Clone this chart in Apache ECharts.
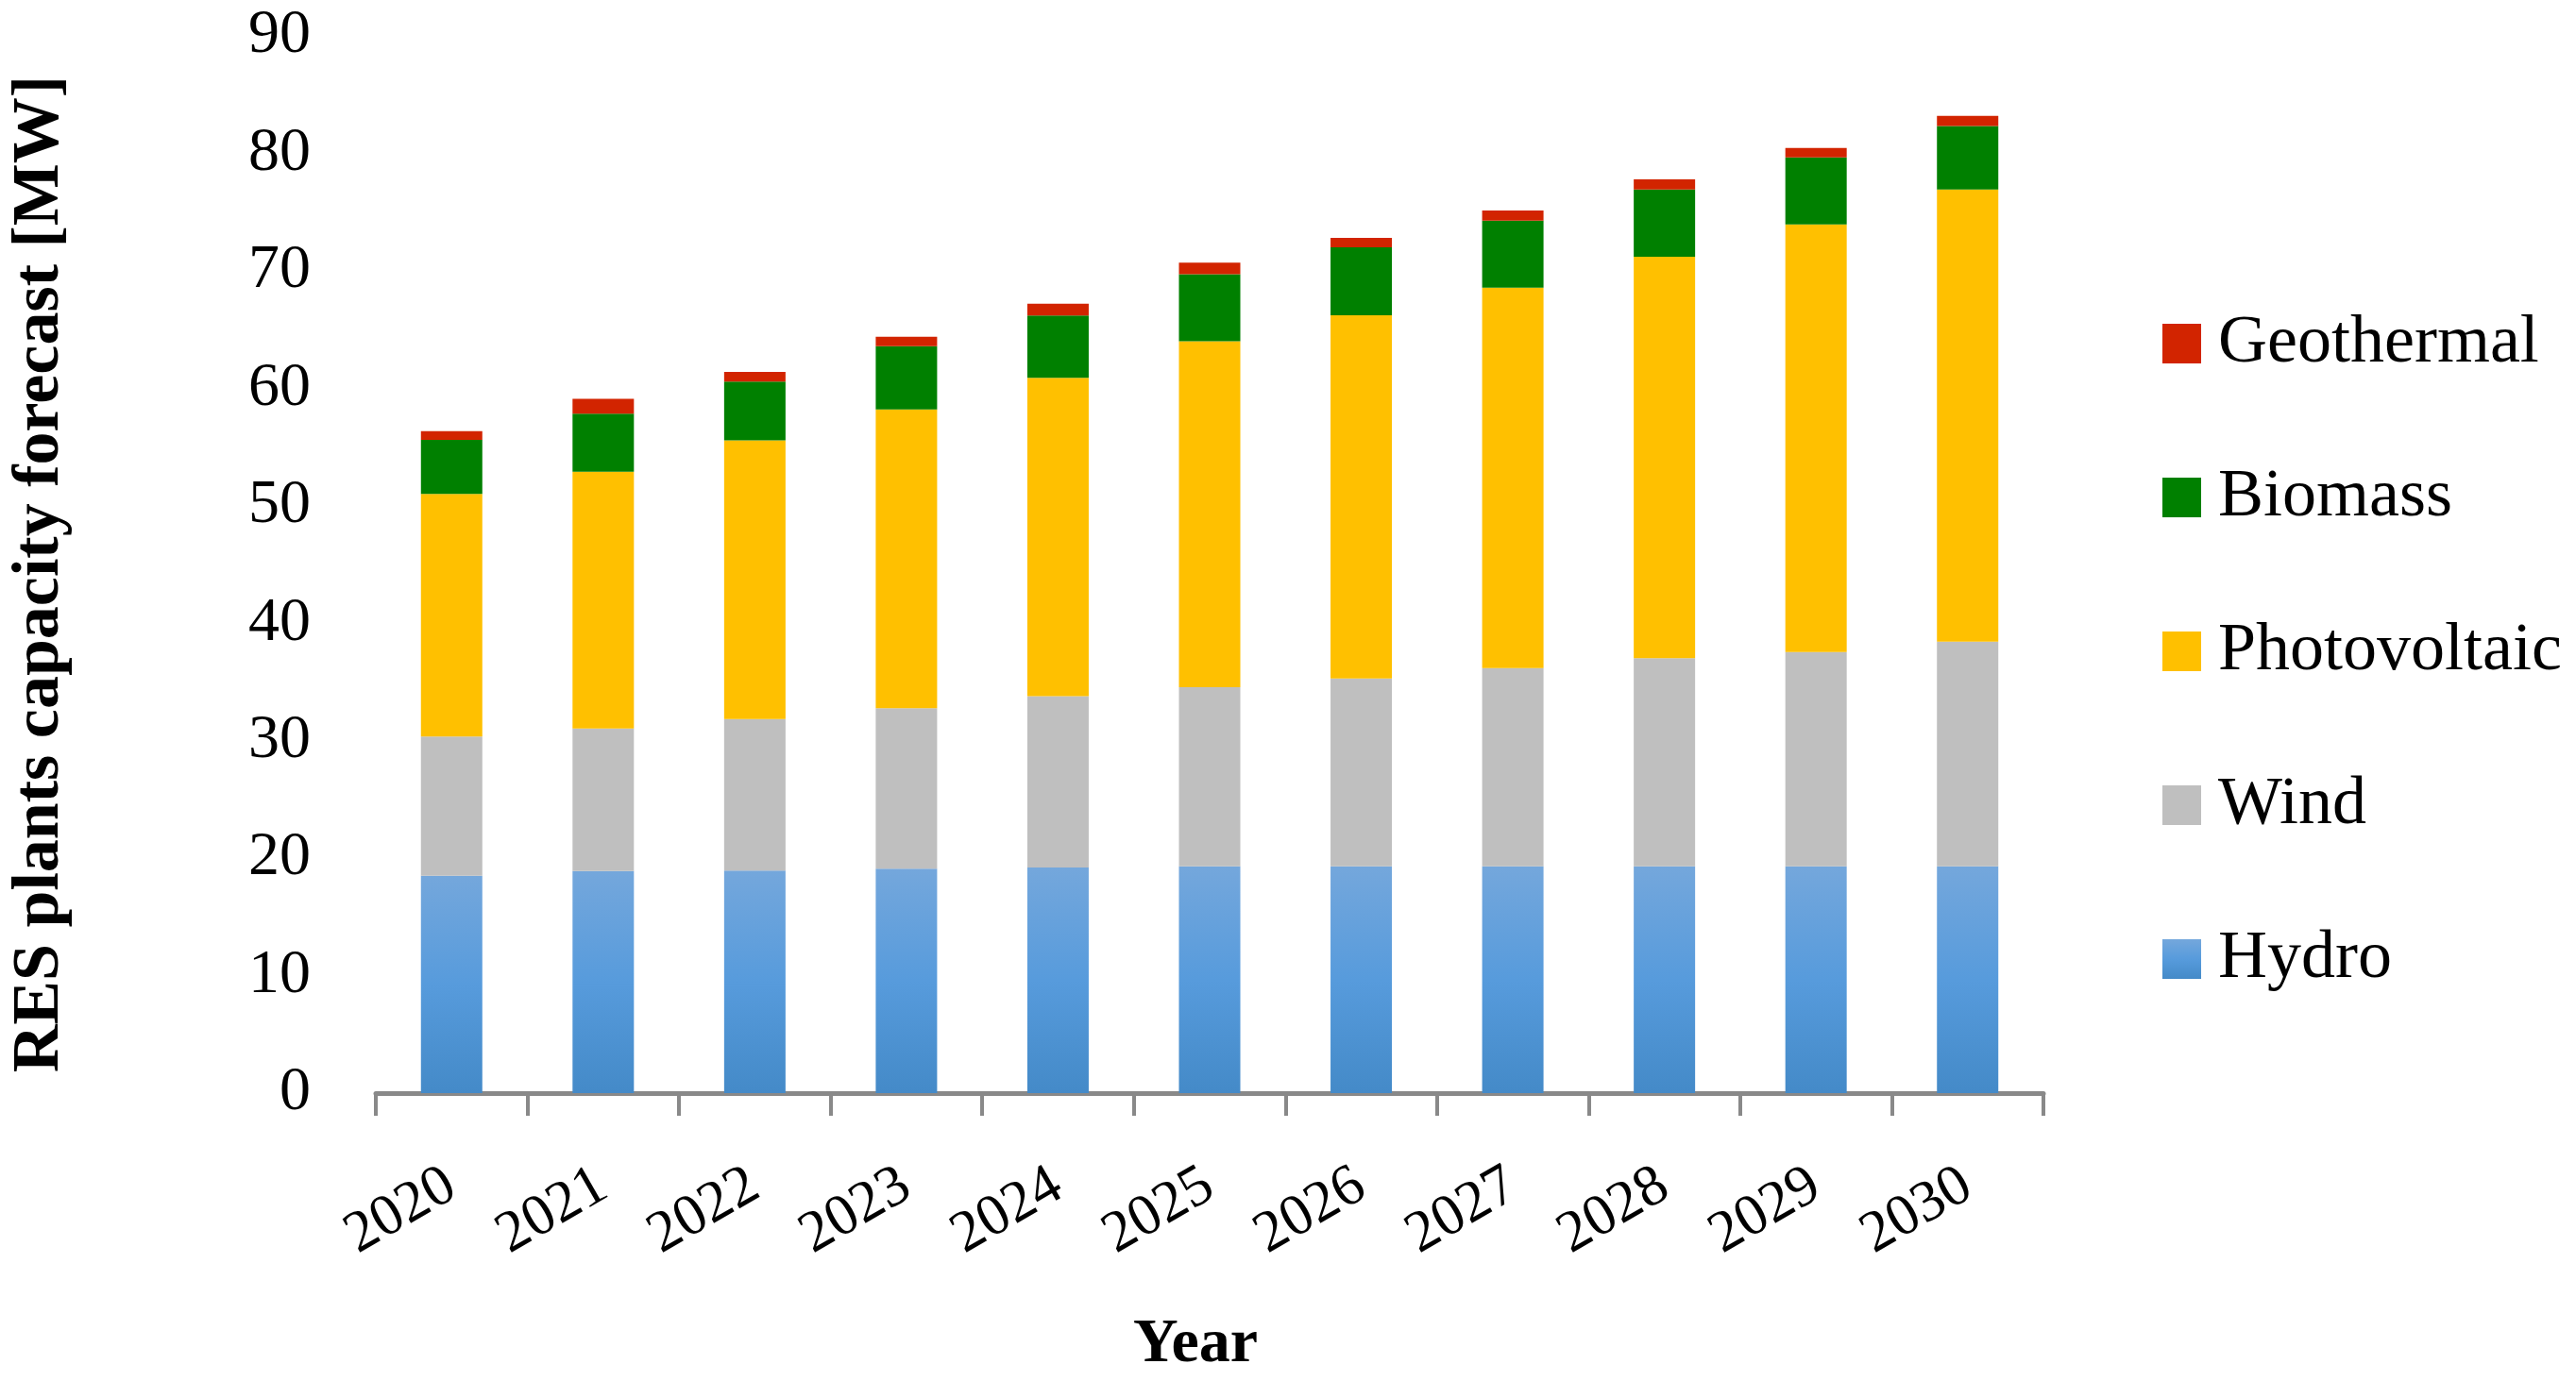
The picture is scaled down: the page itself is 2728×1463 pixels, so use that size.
<!DOCTYPE html>
<html>
<head>
<meta charset="utf-8">
<script src="https://cdn.jsdelivr.net/npm/echarts@6/dist/echarts.min.js"></script>
<style>
html,body{margin:0;padding:0;background:#fff;}
#chart{width:2728px;height:1463px;}
</style>
</head>
<body>
<div id="chart"></div>
<script>
const years = ['2020','2021','2022','2023','2024','2025','2026','2027','2028','2029','2030'];
const hydro = [18.5, 18.9, 18.95, 19.1, 19.2, 19.3, 19.3, 19.3, 19.3, 19.3, 19.3];
const wind = [11.85, 12.13, 12.9, 13.66, 14.6, 15.25, 15.99, 16.89, 17.72, 18.24, 19.14];
const photovoltaic = [20.65, 21.87, 23.71, 25.44, 27.1, 29.45, 30.93, 32.37, 34.18, 36.4, 38.48];
const biomass = [4.6, 4.93, 5.01, 5.38, 5.3, 5.7, 5.78, 5.72, 5.72, 5.71, 5.4];
const geothermal = [0.76, 1.27, 0.83, 0.81, 1.0, 1.0, 0.8, 0.86, 0.86, 0.8, 0.87];
const yTicks = [0, 10, 20, 30, 40, 50, 60, 70, 80, 90];

const FONT = "'Liberation Serif', 'Times New Roman', serif";
const chart = echarts.init(document.getElementById('chart'));

function bar(name, data, color) {
  return {
    name: name, type: 'bar', stack: 'total', data: data,
    barWidth: 65,
    itemStyle: { color: color },
    emphasis: { disabled: true }
  };
}

const hydroColor = new echarts.graphic.LinearGradient(0, 0, 0, 1, [
  { offset: 0, color: '#74A7DC' },
  { offset: 0.5, color: '#579BDC' },
  { offset: 1, color: '#448AC8' }
]);

chart.setOption({
  animation: false,
  backgroundColor: '#ffffff',
  textStyle: { fontFamily: FONT },
  grid: { left: 391, right: 564, top: 38, bottom: 304, containLabel: false },
  legend: {
    orient: 'vertical',
    left: 2290, top: 325,
    padding: 0,
    itemWidth: 41, itemHeight: 42, itemGap: 85,
    icon: 'rect',
    data: ['Geothermal', 'Biomass', 'Photovoltaic', 'Wind', 'Hydro'],
    textStyle: { fontFamily: FONT, fontSize: 72, lineHeight: 72, color: '#000', padding: [6, 0, 0, 13] }
  },
  xAxis: {
    type: 'category',
    data: years,
    name: 'Year',
    nameLocation: 'middle',
    nameGap: 234,
    nameTextStyle: { fontFamily: FONT, fontSize: 66, fontWeight: 'bold', color: '#000', padding: [0, 30, 0, 0] },
    axisLine: { show: true, lineStyle: { color: '#898989', width: 5 } },
    axisTick: { show: true, interval: 0, alignWithLabel: false, length: 24, lineStyle: { color: '#898989', width: 4 } },
    axisLabel: { interval: 0, rotate: 30, margin: 94, fontFamily: FONT, fontSize: 62, color: '#000' },
    splitLine: { show: false }
  },
  yAxis: {
    type: 'value',
    min: 0, max: 90, interval: 10,
    name: 'RES plants capacity forecast [MW]',
    nameLocation: 'middle',
    nameRotate: 90,
    nameGap: 320,
    nameTextStyle: { fontFamily: FONT, fontSize: 70, fontWeight: 'bold', color: '#000', padding: [0, 20, 0, 0] },
    axisLine: { show: false },
    axisTick: { show: false },
    splitLine: { show: false },
    axisLabel: {
      margin: 69, fontFamily: FONT, fontSize: 66, color: '#000', padding: [10, 0, 0, 0],
      formatter: function (v) { return yTicks.indexOf(v) >= 0 ? String(v) : ''; }
    }
  },
  series: [
    bar('Hydro', hydro, hydroColor),
    bar('Wind', wind, '#BFBFBF'),
    bar('Photovoltaic', photovoltaic, '#FFC000'),
    bar('Biomass', biomass, '#008000'),
    bar('Geothermal', geothermal, '#D22400')
  ]
});
</script>
</body>
</html>
